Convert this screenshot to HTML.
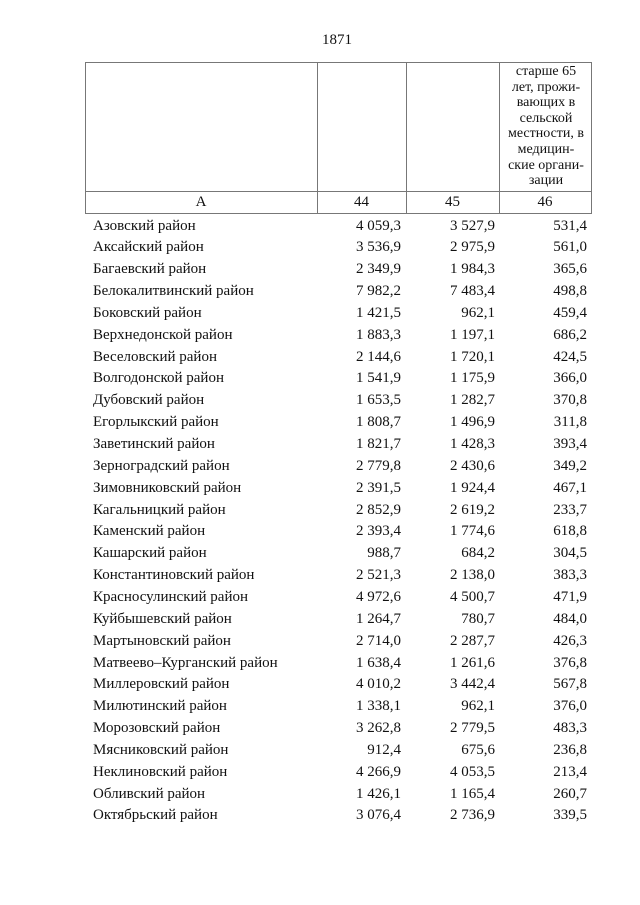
<!DOCTYPE html>
<html><head><meta charset="utf-8"><style>
body{margin:0;width:640px;height:905px;background:#fff;position:relative;font-family:"Liberation Serif",serif;color:#111;overflow:hidden}
.a{position:absolute}
.l{position:absolute;background:#777}
.r{position:absolute;left:0;width:640px;height:22px;font-size:15px;line-height:22px}
.r span{position:absolute;white-space:nowrap}
.n{left:93px}
.c1{right:239px}.c2{right:145px}.c3{right:53px}
.h{position:absolute;left:497px;width:98px;text-align:center;font-size:14px;line-height:15.6px;top:64px}
</style></head><body>
<div class="a" style="left:0;width:674px;text-align:center;top:32px;font-size:15px">1871</div>
<div class="l" style="left:85px;top:62px;width:507px;height:1px"></div>
<div class="l" style="left:85px;top:191px;width:507px;height:1px"></div>
<div class="l" style="left:85px;top:213px;width:507px;height:1px"></div>
<div class="l" style="left:85px;top:62px;width:1px;height:152px"></div>
<div class="l" style="left:317px;top:62px;width:1px;height:152px"></div>
<div class="l" style="left:406px;top:62px;width:1px;height:152px"></div>
<div class="l" style="left:499px;top:62px;width:1px;height:152px"></div>
<div class="l" style="left:591px;top:62px;width:1px;height:152px"></div>
<div class="h">старше 65<br>лет, прожи-<br>вающих в<br>сельской<br>местности, в<br>медицин-<br>ские органи-<br>зации</div>
<div class="r" style="top:191px"><span style="left:85px;width:232px;text-align:center">А</span><span style="left:317px;width:89px;text-align:center">44</span><span style="left:406px;width:93px;text-align:center">45</span><span style="left:499px;width:92px;text-align:center">46</span></div>
<div id="rows"></div>
<script>
var d=[["Азовский район","4 059,3","3 527,9","531,4"],["Аксайский район","3 536,9","2 975,9","561,0"],["Багаевский район","2 349,9","1 984,3","365,6"],["Белокалитвинский район","7 982,2","7 483,4","498,8"],["Боковский район","1 421,5","962,1","459,4"],["Верхнедонской район","1 883,3","1 197,1","686,2"],["Веселовский район","2 144,6","1 720,1","424,5"],["Волгодонской район","1 541,9","1 175,9","366,0"],["Дубовский район","1 653,5","1 282,7","370,8"],["Егорлыкский район","1 808,7","1 496,9","311,8"],["Заветинский район","1 821,7","1 428,3","393,4"],["Зерноградский район","2 779,8","2 430,6","349,2"],["Зимовниковский район","2 391,5","1 924,4","467,1"],["Кагальницкий район","2 852,9","2 619,2","233,7"],["Каменский район","2 393,4","1 774,6","618,8"],["Кашарский район","988,7","684,2","304,5"],["Константиновский район","2 521,3","2 138,0","383,3"],["Красносулинский район","4 972,6","4 500,7","471,9"],["Куйбышевский район","1 264,7","780,7","484,0"],["Мартыновский район","2 714,0","2 287,7","426,3"],["Матвеево–Курганский район","1 638,4","1 261,6","376,8"],["Миллеровский район","4 010,2","3 442,4","567,8"],["Милютинский район","1 338,1","962,1","376,0"],["Морозовский район","3 262,8","2 779,5","483,3"],["Мясниковский район","912,4","675,6","236,8"],["Неклиновский район","4 266,9","4 053,5","213,4"],["Обливский район","1 426,1","1 165,4","260,7"],["Октябрьский район","3 076,4","2 736,9","339,5"]];
var h="";d.forEach(function(r,i){var t=214.5+i*21.85;h+='<div class="r" style="top:'+t+'px"><span class="n">'+r[0]+'</span><span class="c1">'+r[1]+'</span><span class="c2">'+r[2]+'</span><span class="c3">'+r[3]+'</span></div>';});
document.getElementById("rows").innerHTML=h;
</script>
</body></html>
